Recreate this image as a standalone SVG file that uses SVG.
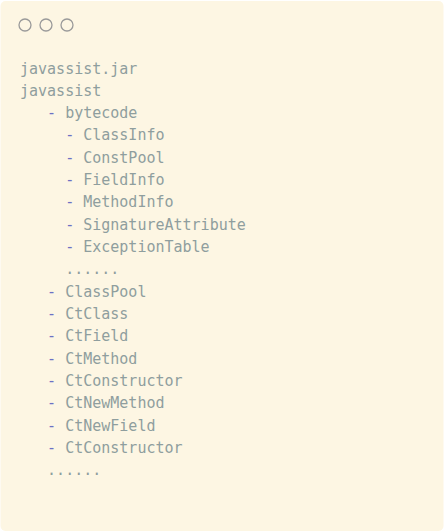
<svg xmlns="http://www.w3.org/2000/svg" width="444" height="532" viewBox="0 0 444 532">
<style>
.t{font-family:"DejaVu Sans Mono","Liberation Mono",monospace;font-size:15px;fill:#8f9e9e;white-space:pre}
.d{fill:#6c71c4}
.c{fill:none;stroke:#9a9a9a;stroke-width:1.3}
</style>
<rect width="444" height="532" fill="#ffffff"/>
<rect x="0.5" y="1" width="443" height="530" rx="5" fill="#fdf6e3"/>
<g id="window-buttons">
<circle class="c" cx="25" cy="25" r="6"/>
<circle class="c" cx="46" cy="25" r="6"/>
<circle class="c" cx="67" cy="25" r="6"/>
</g>
<g id="tree">
<text class="t" x="20" y="74">javassist.jar</text>
<text class="t" x="20" y="96">javassist</text>
<text class="t" x="20" y="118">   <tspan class="d">-</tspan> bytecode</text>
<text class="t" x="20" y="140">     <tspan class="d">-</tspan> ClassInfo</text>
<text class="t" x="20" y="163">     <tspan class="d">-</tspan> ConstPool</text>
<text class="t" x="20" y="185">     <tspan class="d">-</tspan> FieldInfo</text>
<text class="t" x="20" y="207">     <tspan class="d">-</tspan> MethodInfo</text>
<text class="t" x="20" y="230">     <tspan class="d">-</tspan> SignatureAttribute</text>
<text class="t" x="20" y="252">     <tspan class="d">-</tspan> ExceptionTable</text>
<text class="t" x="20" y="274">     ......</text>
<text class="t" x="20" y="297">   <tspan class="d">-</tspan> ClassPool</text>
<text class="t" x="20" y="319">   <tspan class="d">-</tspan> CtClass</text>
<text class="t" x="20" y="341">   <tspan class="d">-</tspan> CtField</text>
<text class="t" x="20" y="364">   <tspan class="d">-</tspan> CtMethod</text>
<text class="t" x="20" y="386">   <tspan class="d">-</tspan> CtConstructor</text>
<text class="t" x="20" y="408">   <tspan class="d">-</tspan> CtNewMethod</text>
<text class="t" x="20" y="431">   <tspan class="d">-</tspan> CtNewField</text>
<text class="t" x="20" y="453">   <tspan class="d">-</tspan> CtConstructor</text>
<text class="t" x="20" y="475">   ......</text>
</g>
</svg>
